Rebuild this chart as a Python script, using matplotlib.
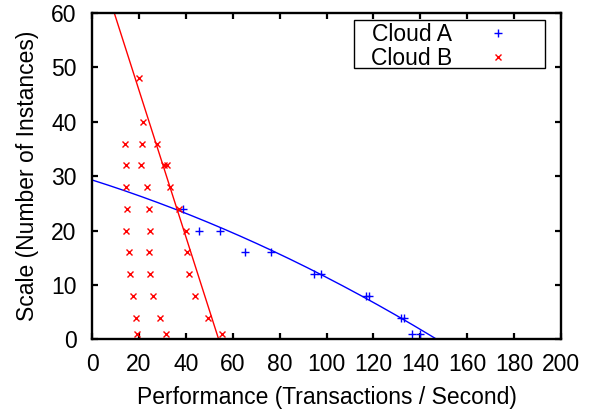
import matplotlib
matplotlib.use("Agg")
import matplotlib.pyplot as plt
from matplotlib.patches import Rectangle
import numpy as np

plt.rcParams['font.family'] = ['Liberation Sans', 'DejaVu Sans']

# Cloud A (blue +)
cloud_a_x = [38.7, 45.8, 54.6, 65.4, 76.2, 94.8, 97.7, 116.8, 118.0,
             131.6, 133.0, 136.5, 139.9]
cloud_a_y = [24, 20, 20, 16, 16, 12, 12, 8, 8, 4, 4, 1, 1]

# Cloud B (red x)
cloud_b_x = [20.2, 21.9,
             14.1, 21.2, 27.6,
             14.4, 20.9, 30.7, 31.8,
             14.5, 23.6, 33.3,
             14.8, 24.4, 37.2,
             14.4, 24.7, 40.0,
             15.9, 24.2, 40.5,
             16.2, 24.7, 41.2,
             17.3, 26.2, 44.1,
             18.6, 28.9, 49.6,
             19.2, 31.6, 55.3]
cloud_b_y = [48, 40,
             36, 36, 36,
             32, 32, 32, 32,
             28, 28, 28,
             24, 24, 24,
             20, 20, 20,
             16, 16, 16,
             12, 12, 12,
             8, 8, 8,
             4, 4, 4,
             1, 1, 1]

# fitted curves (coefficients, low order first)
fit_a = [29.3, -0.1364, -0.000428]
fit_b = [72.8, -1.348]

x_ticks = list(range(0, 201, 20))
y_ticks = list(range(0, 61, 10))

FS = 16.5

fig = plt.figure(figsize=(5.96, 4.13), dpi=100)
ax = fig.add_axes([0.1544, 0.1785, 0.7869, 0.79])

xs = np.linspace(0, 200, 400)
ax.plot(xs, np.polynomial.polynomial.polyval(xs, fit_a), color='blue', lw=1.0)
ax.plot(xs, np.polynomial.polynomial.polyval(xs, fit_b), color='red', lw=1.0)

ax.plot(cloud_a_x, cloud_a_y, '+', color='blue', ms=6, mew=1.0,
        linestyle='none', label='Cloud A')
ax.plot(cloud_b_x, cloud_b_y, 'x', color='red', ms=4.5, mew=1.0,
        linestyle='none', label='Cloud B')

ax.set_xlim(0, 200)
ax.set_ylim(0, 60)
ax.set_xticks(x_ticks)
ax.set_yticks(y_ticks)
ax.tick_params(direction='in', top=True, right=True, length=4.5, width=1.6,
               labelsize=FS)
ax.tick_params(axis='x', pad=10)
ax.tick_params(axis='y', pad=11)
for s in ax.spines.values():
    s.set_linewidth(1.7)

ax.set_xlabel('Performance (Transactions / Second)', fontsize=FS, labelpad=7)
ax.set_ylabel('Scale (Number of Instances)', fontsize=FS, labelpad=9)

h, l = ax.get_legend_handles_labels()
leg = ax.legend(h, l, loc='upper left', bbox_to_anchor=(0.594, 0.969),
                borderaxespad=0, markerfirst=False, fontsize=FS,
                handlelength=2.0, handletextpad=1.0, borderpad=0,
                labelspacing=0.05, frameon=False)
ax.add_patch(Rectangle((0.5586, 0.8322), 0.4079, 0.1472, transform=ax.transAxes,
                       fill=False, edgecolor='black', lw=1.0, zorder=5,
                       clip_on=False))

fig.savefig('out.png', dpi=100)
